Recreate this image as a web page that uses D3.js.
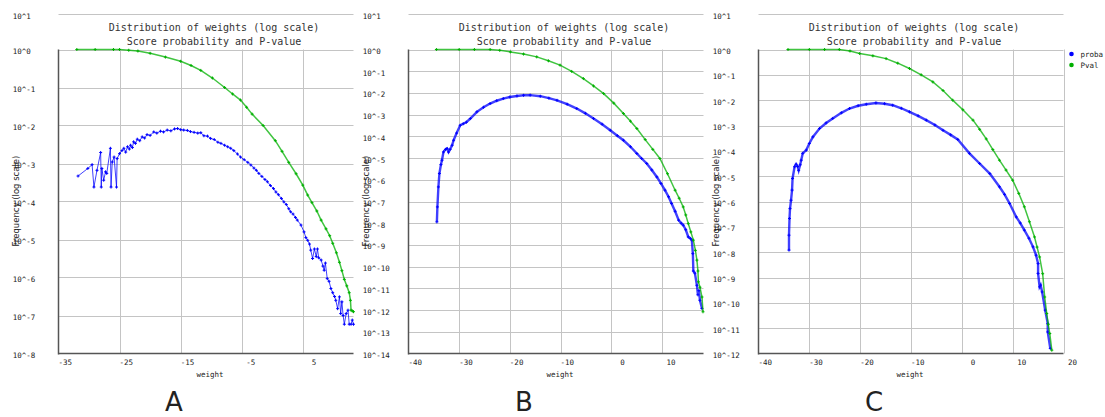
<!DOCTYPE html>
<html>
<head>
<meta charset="utf-8">
<script src="https://cdn.jsdelivr.net/npm/d3@7"></script>
<style>
  body { margin: 0; background: #fff; }
  text { fill: #222; }
</style>
</head>
<body>
<div id="chart"></div>
<script>
// values; y values are log10 of the frequency
const xProbaA = [-31.8,-30.2,-29.5,-29.2,-28.7,-28.1,-28.0,-27.9,-27.6,-27.3,-27.1,-26.5,-26.4,-26.2,-25.9,-25.5,-25.4,-25.0,-24.6,-24.3,-24.0,-23.7,-23.4,-23.2,-22.9,-22.7,-22.4,-22.1,-21.7,-21.3,-20.9,-20.5,-20.0,-19.4,-18.9,-18.3,-17.8,-17.2,-16.6,-16.0,-15.5,-15.0,-14.5,-13.9,-13.4,-12.8,-12.2,-11.7,-11.2,-10.6,-10.1,-9.5,-8.9,-8.4,-7.8,-7.3,-6.8,-6.3,-5.7,-5.2,-4.6,-4.0,-3.5,-3.0,-2.6,-2.2,-1.7,-1.2,-0.8,-0.3,0.2,0.6,1.0,1.5,1.9,2.3,2.7,3.0,3.4,3.8,4.1,4.7,5.2,5.5,5.8,6.1,6.3,6.6,6.9,7.2,7.4,7.6,8.0,8.3,8.5,8.7,9.0,9.3,9.6,9.9,10.2,10.4,10.7,11.0,11.2,11.4,11.6,11.8,12.1,12.4,12.6,12.9,13.1,13.3];
const yProbaA = [-3.33,-3.13,-3.03,-3.62,-3.18,-2.71,-3.62,-3.13,-3.44,-3.22,-3.26,-2.60,-3.62,-2.96,-2.83,-3.62,-2.87,-2.74,-2.66,-2.60,-2.70,-2.56,-2.62,-2.52,-2.58,-2.43,-2.47,-2.36,-2.40,-2.30,-2.33,-2.24,-2.26,-2.17,-2.20,-2.15,-2.17,-2.12,-2.14,-2.09,-2.08,-2.11,-2.12,-2.13,-2.16,-2.18,-2.20,-2.19,-2.27,-2.28,-2.34,-2.37,-2.44,-2.47,-2.52,-2.56,-2.60,-2.66,-2.75,-2.83,-2.90,-2.97,-3.04,-3.12,-3.18,-3.26,-3.34,-3.42,-3.48,-3.58,-3.66,-3.75,-3.82,-3.92,-4.01,-4.08,-4.19,-4.27,-4.33,-4.42,-4.49,-4.62,-4.80,-4.95,-5.02,-5.12,-5.28,-5.50,-5.25,-5.45,-5.25,-5.48,-5.54,-5.70,-5.81,-5.62,-6.03,-6.10,-6.29,-6.40,-6.50,-6.60,-6.82,-6.51,-6.95,-6.64,-7.00,-7.23,-6.95,-6.86,-7.23,-7.23,-7.12,-7.23];
const xPvalA = [-32,-29,-26,-25,-23.5,-22,-20,-17.5,-15,-13.3,-11.7,-9.8,-7.8,-6.5,-5.2,-4.2,-3.3,-1.5,0.5,1.6,2.7,3.9,5.0,5.8,6.5,7.3,8.0,8.8,9.4,9.9,10.5,11.0,11.4,11.8,12.2,12.6,12.8,12.9,13.1,13.3];
const yPvalA = [0,0,0,0,-0.02,-0.04,-0.10,-0.20,-0.31,-0.42,-0.55,-0.75,-1.00,-1.17,-1.33,-1.52,-1.70,-2.00,-2.40,-2.68,-2.97,-3.27,-3.57,-3.83,-4.03,-4.25,-4.49,-4.72,-4.90,-5.10,-5.35,-5.60,-5.82,-6.05,-6.22,-6.40,-6.60,-6.86,-6.88,-6.90];

const xProbaB = [-34.4,-34.3,-34.1,-33.9,-33.6,-33.4,-33.1,-32.7,-32.4,-32.1,-31.8,-31.4,-31.1,-30.5,-29.8,-29.2,-28.6,-27.8,-26.5,-25.2,-23.9,-22.6,-21.3,-20.0,-18.6,-17.3,-16.0,-14.0,-12.3,-10.7,-8.7,-6.8,-5.1,-3.5,-1.8,-0.2,1.2,2.4,3.8,5.05,6.0,7.0,8.0,9.0,9.8,10.6,11.3,11.9,12.6,13.3,13.8,14.2,14.7,15.2,15.6,15.9,16.1,16.2,16.5,16.9,17.1,17.3,17.5,17.9];
const yProbaB = [-7.94,-7.25,-6.33,-5.71,-5.30,-5.10,-4.72,-4.60,-4.56,-4.72,-4.60,-4.41,-4.18,-3.85,-3.49,-3.42,-3.35,-3.18,-2.87,-2.66,-2.49,-2.36,-2.26,-2.19,-2.14,-2.11,-2.10,-2.15,-2.24,-2.34,-2.52,-2.72,-2.94,-3.18,-3.44,-3.72,-3.97,-4.18,-4.48,-4.79,-5.02,-5.25,-5.55,-5.87,-6.17,-6.48,-6.78,-7.09,-7.45,-7.86,-8.00,-8.09,-8.30,-8.63,-8.70,-8.78,-9.40,-10.20,-10.30,-10.86,-11.30,-11.10,-11.55,-11.93];
const xPvalB = [-34.5,-30,-27,-23.9,-22,-19.9,-17.3,-14.7,-12.4,-10.1,-7.8,-5.5,-3.5,-1.5,0.5,2.4,3.8,5.05,6.7,8.2,9.6,11.1,12.6,13.4,14.2,14.7,15.2,15.7,16.2,16.6,16.9,17.1,17.2,17.5,17.9,18.1];
const yPvalB = [0,0,0,0,-0.04,-0.11,-0.21,-0.34,-0.52,-0.72,-1.01,-1.34,-1.68,-2.03,-2.47,-2.95,-3.30,-3.64,-4.15,-4.60,-5.02,-5.72,-6.48,-6.85,-7.25,-7.62,-8.02,-8.40,-8.78,-9.25,-9.70,-10.20,-10.70,-10.95,-11.40,-12.08];

const xProbaC = [-34.0,-34.0,-33.9,-33.8,-33.6,-33.4,-33.3,-32.9,-32.6,-32.3,-32.1,-31.8,-31.6,-31.3,-30.6,-30.0,-29.3,-28.0,-26.7,-25.4,-23.7,-22.1,-20.4,-18.8,-16.9,-15.2,-13.6,-11.9,-10.3,-8.6,-7.0,-5.3,-3.7,-2.2,-0.8,1.5,3.5,5.5,7.4,8.4,9.4,10.7,11.5,12.3,13.2,14.0,14.6,15.0,15.0,15.3,15.5,15.8,16.4,16.9,16.9,17.4];
const yProbaC = [-7.92,-7.33,-6.67,-6.28,-5.95,-5.55,-5.09,-4.63,-4.53,-4.62,-4.77,-4.55,-4.37,-4.10,-3.97,-3.71,-3.45,-3.12,-2.90,-2.72,-2.50,-2.33,-2.22,-2.16,-2.11,-2.14,-2.20,-2.32,-2.46,-2.62,-2.79,-2.98,-3.19,-3.37,-3.55,-4.10,-4.50,-4.90,-5.42,-5.72,-6.08,-6.61,-6.85,-7.13,-7.45,-7.79,-8.12,-8.45,-8.84,-9.37,-9.30,-9.57,-10.29,-10.82,-11.15,-11.80];
const xPvalC = [-34.2,-30,-27,-24.1,-22,-20.1,-17.5,-14.9,-12.6,-10.3,-8.0,-5.7,-3.7,-1.8,0.2,2.2,3.5,4.8,6.1,7.4,8.7,10.0,11.2,12.3,13.3,14.3,14.8,15.3,15.9,16.3,16.7,17.0,17.3,17.7];
const yPvalC = [0,0,0,0,-0.06,-0.16,-0.25,-0.36,-0.54,-0.75,-1.00,-1.28,-1.62,-2.00,-2.38,-2.79,-3.15,-3.53,-3.95,-4.37,-4.76,-5.16,-5.68,-6.21,-6.80,-7.40,-7.80,-8.19,-8.85,-9.77,-10.42,-10.85,-11.21,-11.87];

const xTicksA = [-35, -25, -15, -5, 5];
const xTicksB = [-40, -30, -20, -10, 0, 10];
const xTicksC = [-40, -30, -20, -10, 0, 10, 20];

const titleLines = ["Distribution of weights  (log scale)", "Score probability and P-value"];
const seriesNames = ["proba", "Pval"];
const panelLetters = ["A", "B", "C"];

const W = 1105, H = 417;
const blue = "#0000ff", green = "#00b000";
const mono = "'DejaVu Sans Mono', monospace";

const svg = d3.select("#chart").append("svg")
  .attr("width", W).attr("height", H);

const panels = [
  { ox: 0,   width: 295, xDomain: [-35, 13.3], xTicks: xTicksA, yMin: -8,  probaX: xProbaA, probaY: yProbaA, pvalX: xPvalA, pvalY: yPvalA, blueW: 1 },
  { ox: 350, width: 295, xDomain: [-40, 18.2], xTicks: xTicksB, yMin: -14, probaX: xProbaB, probaY: yProbaB, pvalX: xPvalB, pvalY: yPvalB, blueW: 2.4 },
  { ox: 700, width: 305, xDomain: [-40, 20],   xTicks: xTicksC, yMin: -12, probaX: xProbaC, probaY: yProbaC, pvalX: xPvalC, pvalY: yPvalC, blueW: 2.4, legend: true }
];

panels.forEach((p, i) => drawPanel(p, i));

function drawPanel(p, i) {
  const left = 58.5, top = 49.5, bottom = 353.5;
  const g = svg.append("g").attr("transform", `translate(${p.ox},0)`);

  const x = d3.scaleLinear().domain(p.xDomain).range([left, left + p.width]);
  const y = d3.scaleLog().domain([1, Math.pow(10, p.yMin)]).range([top, bottom]);

  const exps = d3.range(0, p.yMin - 1, -1);

  // grid
  g.append("line")
    .attr("x1", left).attr("x2", left + p.width)
    .attr("y1", 14.5).attr("y2", 14.5)
    .attr("stroke", "#c4c4c4");
  g.selectAll(".hgrid").data(exps.slice(0, -1)).enter().append("line")
    .attr("x1", left).attr("x2", left + p.width)
    .attr("y1", d => Math.round(y(Math.pow(10, d))) + 0.5)
    .attr("y2", d => Math.round(y(Math.pow(10, d))) + 0.5)
    .attr("stroke", "#c4c4c4");
  g.selectAll(".vgrid").data(p.xTicks.slice(1)).enter().append("line")
    .attr("x1", d => Math.round(x(d)) + 0.5).attr("x2", d => Math.round(x(d)) + 0.5)
    .attr("y1", top).attr("y2", bottom)
    .attr("stroke", "#c4c4c4");

  // axes
  g.append("line").attr("x1", left).attr("x2", left)
    .attr("y1", top).attr("y2", bottom + 1)
    .attr("stroke", "#555").attr("stroke-width", 1.5);
  g.append("line").attr("x1", left).attr("x2", left + p.width)
    .attr("y1", bottom).attr("y2", bottom)
    .attr("stroke", "#555").attr("stroke-width", 1.5);

  // y tick labels
  const ylab = [{ t: "10^1", yy: 14.5 }].concat(exps.map(d => ({ t: "10^" + d, yy: y(Math.pow(10, d)) })));
  g.selectAll(".ylab").data(ylab).enter().append("text")
    .attr("x", 12.7).attr("y", d => d.yy + 4.5)
    .style("font-family", mono).style("font-size", "7.5px")
    .text(d => d.t);

  // x tick labels, padded to three characters
  g.selectAll(".xlab").data(p.xTicks).enter().append("text")
    .attr("x", d => x(d) + (3 - String(d).length) * 4.5)
    .attr("y", 365)
    .style("font-family", mono).style("font-size", "7.5px")
    .text(d => String(d));

  g.append("text").attr("x", 210).attr("y", 376.5)
    .attr("text-anchor", "middle")
    .style("font-family", mono).style("font-size", "7.5px")
    .text("weight");

  g.append("text")
    .attr("transform", "translate(18.5,201) rotate(-90)")
    .attr("text-anchor", "middle")
    .style("font-family", "'DejaVu Sans', sans-serif").style("font-size", "8.5px")
    .text("Frequency (log scale)");

  // title
  titleLines.forEach((t, k) => {
    g.append("text").attr("x", 214).attr("y", 31 + k * 14)
      .attr("text-anchor", "middle")
      .style("font-family", mono).style("font-size", "10px")
      .style("fill", "#333")
      .text(t);
  });

  // series
  const series = [
    { xs: p.probaX, ys: p.probaY, color: blue, w: p.blueW },
    { xs: p.pvalX, ys: p.pvalY, color: green, w: 1.5 }
  ];
  const line = d3.line().x(d => x(d[0])).y(d => y(Math.pow(10, d[1])));
  series.forEach(s => {
    const pts = s.xs.map((v, k) => [v, s.ys[k]]);
    g.append("path").datum(pts)
      .attr("d", line)
      .attr("fill", "none")
      .attr("stroke", s.color)
      .attr("stroke-opacity", 0.75)
      .attr("stroke-width", s.w);
    g.selectAll(null).data(pts).enter().append("path")
      .attr("d", d => {
        const cx = x(d[0]), cy = y(Math.pow(10, d[1]));
        return `M${cx - 1.5},${cy}H${cx + 1.5}M${cx},${cy - 1.5}V${cy + 1.5}`;
      })
      .attr("stroke", s.color)
      .attr("stroke-width", 1);
  });

  // legend
  if (p.legend) {
    const lg = g.append("g").attr("transform", `translate(${left + p.width + 8},54)`);
    seriesNames.forEach((name, k) => {
      lg.append("circle").attr("cx", 0).attr("cy", k * 11).attr("r", 2.3)
        .attr("fill", k === 0 ? blue : green);
      lg.append("text").attr("x", 9).attr("y", k * 11 + 2.8)
        .style("font-family", mono).style("font-size", "7.5px")
        .text(name);
    });
  }

  svg.append("text")
    .attr("x", p.ox + 174)
    .attr("y", 411)
    .attr("text-anchor", "middle")
    .style("font-family", "'DejaVu Sans', sans-serif").style("font-size", "26px")
    .text(panelLetters[i]);
}
</script>
</body>
</html>
